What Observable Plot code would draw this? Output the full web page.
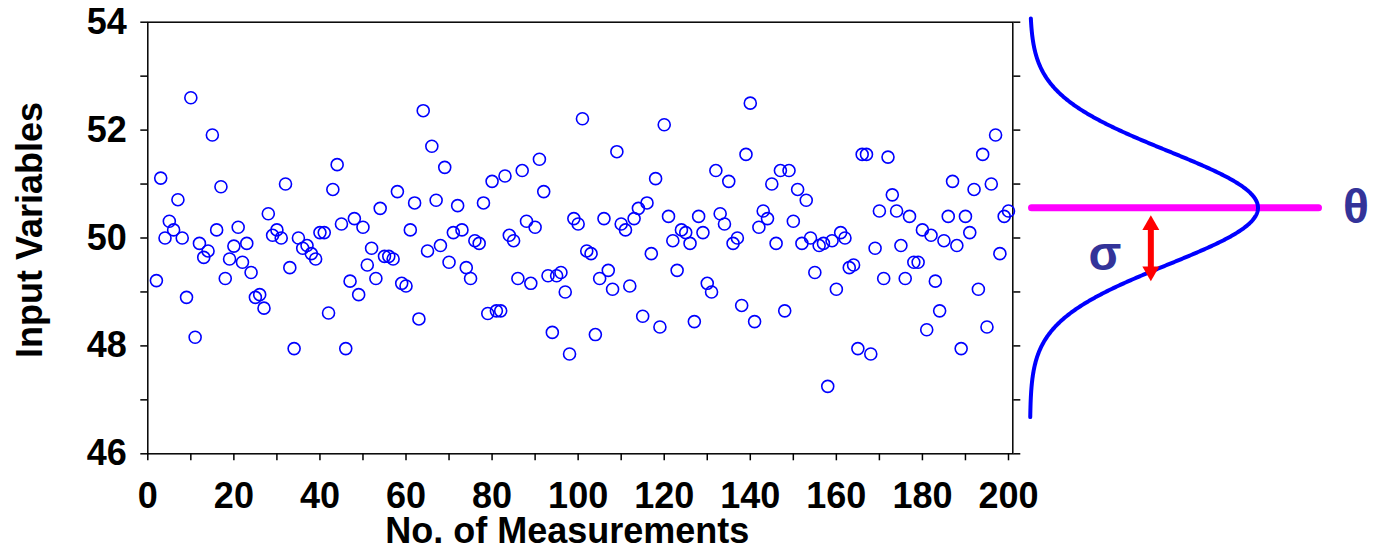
<!DOCTYPE html>
<html>
<head>
<meta charset="utf-8">
<script src="https://cdn.jsdelivr.net/npm/d3@7"></script>
<script src="https://cdn.jsdelivr.net/npm/@observablehq/plot@0.6"></script>
<style>
  body { margin: 0; background: #fff; }
  #chart { position: relative; width: 1381px; height: 550px; overflow: hidden; background: #fff; }
  #chart svg { position: absolute; top: 0; }
</style>
</head>
<body>
<div id="chart"></div>
<script>
// Measurements start at No. 2 and run one per step up to No. 200.
const firstMeasurement = 2;

// Input variable readings, ten per row (first row: No. 2-10).
const inputValues = [
  49.21, 51.11, 50.00, 50.31, 50.15, 50.71, 50.00, 48.90, 52.60,
  48.16, 49.90, 49.64, 49.76, 51.91, 50.15, 50.95, 49.25, 49.61, 49.85,
  50.20, 49.55, 49.90, 49.36, 48.90, 48.95, 48.70, 50.45, 50.05, 50.15,
  50.00, 51.00, 49.45, 47.95, 50.00, 49.81, 49.86, 49.71, 49.61, 50.10,
  50.10, 48.61, 50.90, 51.36, 50.26, 47.95, 49.20, 50.36, 48.95, 50.20,
  49.50, 49.81, 49.25, 50.55, 49.66, 49.66, 49.61, 50.86, 49.16, 49.11,
  50.15, 50.65, 48.50, 52.36, 49.76, 51.70, 50.70, 49.86, 51.31, 49.55,
  50.10, 50.60, 50.15, 49.45, 49.25, 49.95, 49.90, 50.65, 48.60, 51.05,
  48.65, 48.65, 51.15, 50.05, 49.95, 49.25, 51.25, 50.31, 49.16, 50.20,
  51.46, 50.86, 49.30, 48.25, 49.30, 49.36, 49.00, 47.85, 50.36, 50.26,
  52.21, 49.76, 49.71, 48.21, 49.25, 50.36, 49.40, 49.05, 51.60, 50.26,
  50.15, 49.11, 50.36, 50.55, 48.55, 50.65, 49.71, 51.10, 48.35, 52.10,
  50.40, 49.95, 49.40, 50.15, 50.10, 49.90, 48.45, 50.40, 50.10, 49.16,
  49.00, 51.25, 50.45, 50.26, 51.05, 49.90, 50.00, 48.75, 51.55, 52.50,
  48.45, 50.20, 50.50, 50.36, 51.00, 49.90, 51.25, 48.65, 51.25, 50.31,
  50.90, 49.90, 50.70, 50.00, 49.36, 49.86, 49.90, 47.25, 49.95, 49.05,
  50.10, 50.00, 49.45, 49.50, 47.95, 51.55, 51.55, 47.85, 49.81, 50.50,
  49.25, 51.50, 50.80, 50.50, 49.86, 49.25, 50.40, 49.55, 49.55, 50.15,
  48.30, 50.05, 49.20, 48.65, 49.95, 50.40, 51.05, 49.86, 47.95, 50.40,
  50.10, 50.90, 49.05, 51.55, 48.35, 51.00, 51.91, 49.71, 50.40, 50.50
];

// Axis ticks and labels.
const xTickMarks = [0, 10, 20, 30, 40, 50, 60, 70, 80, 90, 100, 110, 120, 130, 140, 150, 160, 170, 180, 190, 200];
const xTickLabels = [0, 20, 40, 60, 80, 100, 120, 140, 160, 180, 200];
const yTickMarks = [46, 47, 48, 49, 50, 51, 52, 53, 54];
const yTickLabels = [46, 48, 50, 52, 54];

// Distribution parameters shown on the side panel.
const theta = 50.56;
const sigma = 1.05;
const bellExtent = [46.68, 54.07];
const sigmaArrow = [{top: 50.42, bottom: 49.2}];

const records = inputValues.map((value, i) => ({n: firstMeasurement + i, value}));

// Normal density N(theta, sigma), scaled to 1 at its peak.
const bell = d3.range(bellExtent[0], bellExtent[1] + 1e-9, 0.01)
  .map(y => ({y, density: Math.exp(-((y - theta) ** 2) / (2 * sigma * sigma))}));

const font = "'Liberation Sans', Arial, Helvetica, sans-serif";
const marginT = 21.7, marginB = 96.7, chartHeight = 550;
const plain = d => String(d);

const main = Plot.plot({
  width: 1020,
  height: chartHeight,
  marginLeft: 147.3,
  marginRight: 7.7,
  marginTop: marginT,
  marginBottom: marginB,
  style: {background: "transparent", fontFamily: font, color: "black", overflow: "visible"},
  x: {domain: [0, 201], label: null},
  y: {domain: [46, 54], label: null},
  marks: [
    Plot.axisY(yTickMarks, {anchor: "left", tickSize: 7, tickFormat: () => "", strokeWidth: 1.5, label: null}),
    Plot.axisY(yTickLabels, {anchor: "left", tickSize: 0, tickPadding: 21, tickFormat: plain, fontSize: 36, fontWeight: "bold", label: null}),
    Plot.axisY(yTickMarks, {anchor: "right", tickSize: 7, tickFormat: () => "", strokeWidth: 1.5, label: null}),
    Plot.axisX(xTickMarks, {anchor: "bottom", tickSize: 7, tickFormat: () => "", strokeWidth: 1.5, label: null}),
    Plot.axisX(xTickLabels, {anchor: "bottom", tickSize: 0, tickPadding: 29, tickFormat: plain, fontSize: 36, fontWeight: "bold", label: null}),
    Plot.frame({stroke: "black", strokeWidth: 1.5}),
    Plot.dot(records, {x: "n", y: "value", r: 6, stroke: "#0000ff", strokeWidth: 1.6, fill: "none"}),
    Plot.text(["Input Variables"], {frameAnchor: "left", textAnchor: "middle", lineAnchor: "middle", rotate: -90, dx: -117, dy: -8, fontSize: 36, fontWeight: "bold"}),
    Plot.text(["No. of Measurements"], {frameAnchor: "bottom", textAnchor: "middle", lineAnchor: "middle", dx: -13, dy: 78, fontSize: 36, fontWeight: "bold"})
  ]
});

const panel = Plot.plot({
  width: 361,
  height: chartHeight,
  marginLeft: 11.5,
  marginRight: 62.5,
  marginTop: marginT,
  marginBottom: marginB,
  style: {background: "transparent", fontFamily: font, overflow: "visible"},
  x: {domain: [0, 1], range: [9.5, 237.5], axis: null},
  y: {domain: [46, 54], axis: null},
  marks: [
    Plot.ruleY([theta], {stroke: "#ff00ff", strokeWidth: 7, strokeLinecap: "round"}),
    Plot.line(bell, {x: "density", y: "y", stroke: "#0000ff", strokeWidth: 4}),
    Plot.ruleX(sigmaArrow, {x: 0.53, y1: "top", y2: "bottom", stroke: "#ff0000", strokeWidth: 6, insetTop: 12, insetBottom: 12}),
    Plot.dot(sigmaArrow, {x: 0.53, y: "top", symbol: "triangle", r: 6.3, fill: "#ff0000", stroke: "none", dy: 9.8}),
    Plot.dot(sigmaArrow, {x: 0.53, y: "bottom", symbol: "triangle", r: 6.3, fill: "#ff0000", stroke: "none", rotate: 180, dy: -9.8}),
    Plot.text(sigmaArrow, {x: 0.53, y: d => (d.top + d.bottom) / 2, text: () => "σ", dx: -46, dy: 6, fontSize: 48, fontWeight: "bold", fill: "#333399"}),
    Plot.text([theta], {y: d => d, frameAnchor: "right", textAnchor: "start", lineAnchor: "middle", text: () => "θ", dx: 24, fontSize: 48, fontWeight: "bold", fill: "#333399"})
  ]
});

const chart = document.getElementById("chart");
main.style.left = "0px";
panel.style.left = "1020px";
chart.appendChild(main);
chart.appendChild(panel);
</script>
</body>
</html>
